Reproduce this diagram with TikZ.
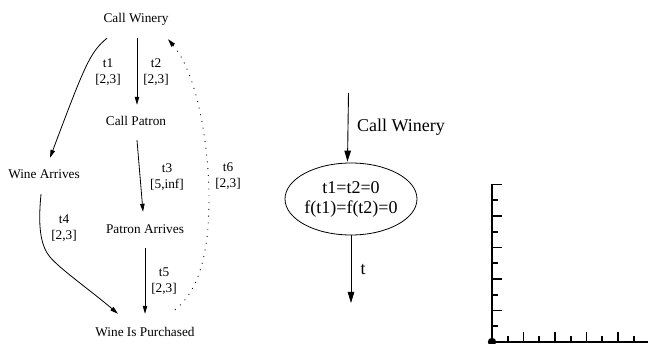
\documentclass[tikz,border=0pt]{standalone}
\usepackage{fontspec}
\setmainfont{Liberation Serif}
\usetikzlibrary{arrows.meta,shapes.geometric,calc}
\begin{document}
\begin{tikzpicture}[x=1pt,y=-1pt,
  st/.style={font=\fontsize{13.3}{15.5}\selectfont, inner sep=0, text height=9.5pt, text depth=3pt, anchor=base},
  lbl/.style={font=\fontsize{13.3}{15.5}\selectfont, inner sep=0, align=center},
  big/.style={font=\fontsize{18}{20}\selectfont, inner sep=0, align=center},
  arr/.style={-{Triangle[length=8pt,width=4.5pt]}, line width=0.8pt},
  arrtwo/.style={-{Triangle[length=11pt,width=6.5pt]}, line width=0.9pt},
  dotline/.style={line width=0.9pt, dash pattern=on 0.9pt off 5.9pt},
  axisline/.style={line width=1.6pt}]
\useasboundingbox (0,0) rectangle (648,344);
% left diagram
\node[st] (cw) at (136,22.5) {Call Winery};
\node[st] (cp) at (136,126) {Call Patron};
\node[st] (wa) at (44,178.5) {Wine Arrives};
\node[st] (pa) at (145,233.5) {Patron Arrives};
\node[st] (wp) at (145,336.5) {Wine Is Purchased};
\node[lbl] (l1) at (108,72) {t1\\{[2,3]}};
\node[lbl] (l2) at (156,72) {t2\\{[2,3]}};
\node[lbl] (l3) at (167,177) {t3\\{[5,inf]}};
\node[lbl] (l6) at (228,176) {t6\\{[2,3]}};
\node[lbl] (l4) at (64,228) {t4\\{[2,3]}};
\node[lbl] (l5) at (164,281) {t5\\{[2,3]}};
\draw[arr] ($(cw.south)+(1,12.5)$) -- ($(cp.north)+(1,-11.5)$);
\draw[arr] ($(cw.south)+(-29,12.5)$) .. controls +(-17,14) and +(35,-93) .. ($(wa.north)+(6,-11)$);
\draw[arr] ($(wa.south)+(-3,12.5)$) .. controls (38,225) and (40,245) .. (50,257) .. controls (60,269) and (90,290) .. ($(wp.north)+(-27,-13)$);
\draw[arr] ($(cp.south)+(1,11)$) -- ($(pa.north)+(-2,-12)$);
\draw[arr] ($(pa.south)+(0,11.5)$) -- ($(wp.north)+(0,-13)$);
\draw[arr,dotline] ($(wp.north)+(30,-17)$) .. controls (200,290) and (209,250) .. (209,200) .. controls (209,140) and (196,72) .. ($(cw.south)+(32,13.5)$);
% middle diagram
\coordinate (in) at (348.5,93);
\coordinate (out) at (351,303);
\node[big] (cw2) at (401,127) {Call Winery};
\node[draw, ellipse, minimum width=132pt, minimum height=72pt, line width=0.8pt, big] (ell) at (351,199) {t1=t2=0\\f(t1)=f(t2)=0};
\node[big] (tl) at (363,269.5) {t};
\draw[arrtwo] (in) -- ($(ell.north)+(-3.5,-1)$);
\draw[arrtwo] (ell.south) -- (out);
% axes
\draw[axisline] (492,184) -- (492,342) -- (652,342);
\foreach \k in {2,4,...,10} {
  \draw[axisline] (492,342-15.75*\k) -- ++(10,0);
  \draw[axisline] (492+15.75*\k,342) -- ++(0,-9.5);
}
\foreach \k in {1,3,...,9} {
  \draw[axisline] (492,342-15.75*\k) -- ++(5.5,0);
  \draw[axisline] (492+15.75*\k,342) -- ++(0,-5.5);
}
\fill (492,342) circle (4.2pt);
\end{tikzpicture}
\end{document}
